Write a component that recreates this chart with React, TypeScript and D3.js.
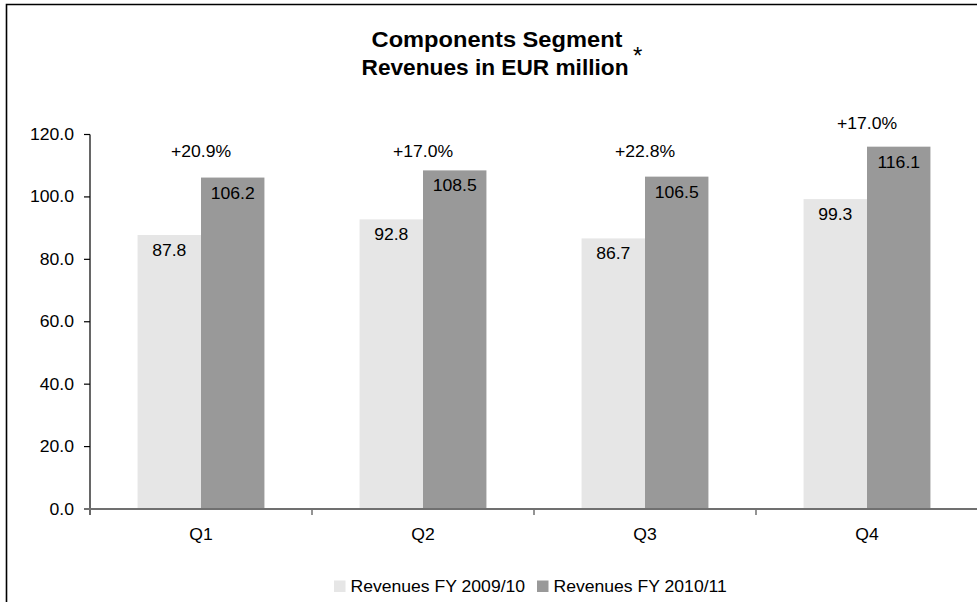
import { useEffect, useRef } from 'react';
import * as d3 from 'd3';

const quarters = ['Q1', 'Q2', 'Q3', 'Q4'];
const seriesNames = ['Revenues FY 2009/10', 'Revenues FY 2010/11'];
const revenues0910 = [87.8, 92.8, 86.7, 99.3];
const revenues1011 = [106.2, 108.5, 106.5, 116.1];
const growthLabels = ['+20.9%', '+17.0%', '+22.8%', '+17.0%'];
// vertical anchor of the growth labels, in axis units
const growthLabelAt = [112.8, 112.8, 112.8, 121.8];
const yTicks = [0, 20, 40, 60, 80, 100, 120];

const seriesColors = ['#e6e6e6', '#999999'];

const WIDTH = 977;
const HEIGHT = 602;
const PLOT = { left: 90, right: 978, top: 134.5, bottom: 509 };
const FONT = 'Arial, "Liberation Sans", Helvetica, sans-serif';
// source image is slightly stretched horizontally
const STRETCH = 1.1;

export default function App() {
  const svgRef = useRef<SVGSVGElement>(null);

  useEffect(() => {
    if (!svgRef.current) return;
    const svg = d3.select(svgRef.current);
    svg.selectAll('*').remove();

    const label = (
      x: number,
      y: number,
      text: string,
      anchor: string,
      size = 16,
      weight = 'normal',
      stretch = STRETCH,
    ) =>
      svg
        .append('text')
        .attr('transform', `translate(${x},${y}) scale(${stretch},1)`)
        .attr('text-anchor', anchor)
        .attr('font-family', FONT)
        .attr('font-size', `${size}px`)
        .attr('font-weight', weight)
        .attr('fill', '#000000')
        .text(text);

    // frame (left + top edges only)
    svg
      .append('path')
      .attr('d', `M6.5,${HEIGHT} V4.5 H${WIDTH}`)
      .attr('fill', 'none')
      .attr('stroke', '#000000')
      .attr('stroke-width', 1.6);

    // Title
    label(497, 46.5, 'Components Segment', 'middle', 21.5, 'bold');
    label(495, 75, 'Revenues in EUR million', 'middle', 21.5, 'bold', 1.055);
    label(633, 64, '*', 'start', 24, 'normal', 1);

    const x0 = d3.scaleBand().domain(quarters).range([PLOT.left, PLOT.right]).padding(0);
    const x1 = d3
      .scaleBand()
      .domain(seriesNames)
      .range([0, x0.bandwidth()])
      .paddingInner(0)
      .paddingOuter(0.75);
    const y = d3.scaleLinear().domain([0, 120]).range([PLOT.bottom, PLOT.top]);

    const seriesValues = [revenues0910, revenues1011];

    // Bars + value labels
    quarters.forEach((q, qi) => {
      seriesNames.forEach((s, si) => {
        const v = seriesValues[si][qi];
        const bx = (x0(q) ?? 0) + (x1(s) ?? 0);
        svg
          .append('rect')
          .attr('x', bx)
          .attr('y', y(v))
          .attr('width', x1.bandwidth())
          .attr('height', y(0) - y(v))
          .attr('fill', seriesColors[si]);
        label(bx + x1.bandwidth() / 2, y(v) + 21, v.toFixed(1), 'middle');
      });
      label((x0(q) ?? 0) + x0.bandwidth() / 2, y(growthLabelAt[qi]), growthLabels[qi], 'middle');
    });

    // Y axis
    svg
      .append('line')
      .attr('x1', PLOT.left)
      .attr('x2', PLOT.left)
      .attr('y1', y(120))
      .attr('y2', PLOT.bottom + 6)
      .attr('stroke', '#000000')
      .attr('stroke-width', 1.2);
    yTicks.forEach(t => {
      svg
        .append('line')
        .attr('x1', PLOT.left - 6)
        .attr('x2', PLOT.left)
        .attr('y1', y(t))
        .attr('y2', y(t))
        .attr('stroke', '#000000')
        .attr('stroke-width', 1.2);
      label(PLOT.left - 16, y(t) + 5.5, t.toFixed(1), 'end');
    });

    // X axis
    svg
      .append('line')
      .attr('x1', PLOT.left - 6)
      .attr('x2', PLOT.right)
      .attr('y1', PLOT.bottom)
      .attr('y2', PLOT.bottom)
      .attr('stroke', '#707070')
      .attr('stroke-width', 2);
    quarters.forEach((q, qi) => {
      if (qi > 0) {
        svg
          .append('line')
          .attr('x1', x0(q) ?? 0)
          .attr('x2', x0(q) ?? 0)
          .attr('y1', PLOT.bottom)
          .attr('y2', PLOT.bottom + 6)
          .attr('stroke', '#707070')
          .attr('stroke-width', 1.5);
      }
      label((x0(q) ?? 0) + x0.bandwidth() / 2, 540, q, 'middle');
    });

    // Legend
    const legendX = [334, 537];
    seriesNames.forEach((s, si) => {
      svg
        .append('rect')
        .attr('x', legendX[si])
        .attr('y', 580.5)
        .attr('width', 11.5)
        .attr('height', 11.5)
        .attr('fill', seriesColors[si]);
      label(legendX[si] + 16.5, 592, s, 'start');
    });
  }, []);

  return (
    <svg
      ref={svgRef}
      width={WIDTH}
      height={HEIGHT}
      style={{ position: 'absolute', left: 0, top: 0, background: '#ffffff', display: 'block' }}
    />
  );
}
